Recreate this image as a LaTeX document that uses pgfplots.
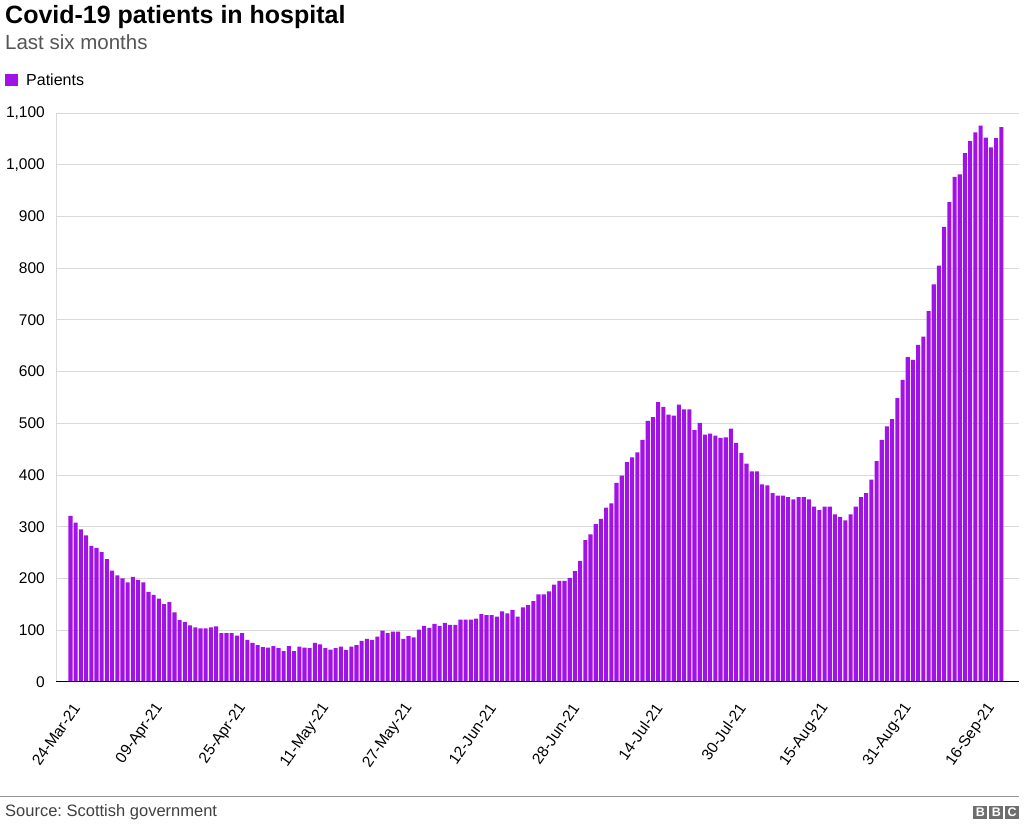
\documentclass[border=0pt]{standalone}
\usepackage{pgfplots}
\pgfplotsset{compat=1.18}
\usepackage{pgfplotstable}
\usepackage{fontspec}
\setmainfont{Liberation Sans}
\frenchspacing
\definecolor{barpurple}{RGB}{160,18,230}
\definecolor{gridgray}{RGB}{217,217,217}
\definecolor{subgray}{RGB}{85,85,85}
\definecolor{srcgray}{RGB}{64,64,64}
\definecolor{rulegray}{RGB}{150,150,150}
\definecolor{bbcgray}{RGB}{110,110,110}

\pgfplotstableread{
v
321
308
295
283
263
259
251
237
215
206
200
192
203
197
192
174
168
161
150
154
134
119
116
109
105
103
103
105
107
94
94
94
89
94
81
75
71
67
66
69
65
59
69
59
68
66
65
75
72
65
62
65
68
61
68
71
79
83
81
87
99
94
97
97
83
88
86
101
108
104
112
108
114
110
110
120
120
120
122
131
129
129
126
136
132
139
126
144
148
156
169
169
175
188
195
195
201
214
234
274
285
305
315
337
345
385
399
425
434
444
468
505
512
541
532
517
515
536
527
527
487
501
478
480
476
472
473
490
462
443
422
407
407
382
380
365
360
360
357
353
357
357
353
339
332
339
339
324
319
312
324
339
357
365
391
427
468
494
508
549
584
628
623
652
668
717
769
805
880
928
977
982
1023
1046
1063
1076
1053
1034
1052
1073
}\patients

\begin{document}
\begin{tikzpicture}[x=1pt,y=1pt]
\path[use as bounding box] (0,0) rectangle (1024,825);
\begin{axis}[
  at={(56pt,143.3pt)}, anchor=south west,
  scale only axis, width=963pt, height=568.4pt,
  xmin=-2.79, xmax=182.4, ymin=0, ymax=1100,
  ybar, bar width=0.78,
  axis line style={draw=none},
  major tick length=0pt,
  ytick={0,100,...,1100},
  xtick={0,16,...,176},
  xticklabels={24-Mar-21,09-Apr-21,25-Apr-21,11-May-21,27-May-21,12-Jun-21,28-Jun-21,14-Jul-21,30-Jul-21,15-Aug-21,31-Aug-21,16-Sep-21},
  ymajorgrids, grid style={gridgray, line width=1pt},
  /pgf/number format/assume math mode=true,
  /pgf/number format/1000 sep={,},
  yticklabel style={font=\fontsize{15.5}{18}\selectfont, anchor=east, inner sep=0pt, xshift=-11pt},
  xticklabel style={font=\fontsize{15.5}{18}\selectfont, xshift=6pt, yshift=-23.5pt, rotate=55, anchor=east, inner sep=0pt},
  legend style={at={(0,1)}, anchor=west, xshift=-51.5pt, yshift=33.3pt, draw=none, fill=none, inner sep=0pt,
    font=\fontsize{16}{19}\selectfont,
    /tikz/every odd column/.append style={column sep=6.5pt}},
  legend image code/.code={\fill[barpurple] (0pt,-6.3pt) rectangle (13pt,6.3pt);},
]
\addplot[fill=barpurple, draw=none] table[x expr=\coordindex, y=v] {\patients};
\addlegendentry{Patients}
\draw[gridgray, line width=1pt] (rel axis cs:0,0) -- (rel axis cs:0,1);
\draw[black, line width=2pt] (rel axis cs:0,0) -- (rel axis cs:1,0);
\end{axis}
\node[anchor=base west, inner sep=0pt, font=\fontsize{25}{29}\selectfont\bfseries] at (5,801) {Covid-19 patients in hospital};
\node[anchor=base west, inner sep=0pt, text=subgray, font=\fontsize{20.5}{24}\selectfont] at (5,775.7) {Last six months};
\draw[rulegray, line width=1pt] (0,29) -- (1019,29);
\node[anchor=base west, inner sep=0pt, text=srcgray, font=\fontsize{16.5}{19}\selectfont] at (5,8.3) {Source: Scottish government};
\foreach \x/\l in {973.3/B,989.3/B,1005/C} {
  \fill[bbcgray] (\x,5.7) rectangle ++(14,13.5);
  \node[text=white, inner sep=0pt, font=\fontsize{12.5}{13}\selectfont\bfseries] at (\x+7,12.45) {\l};
}
\end{tikzpicture}
\end{document}
